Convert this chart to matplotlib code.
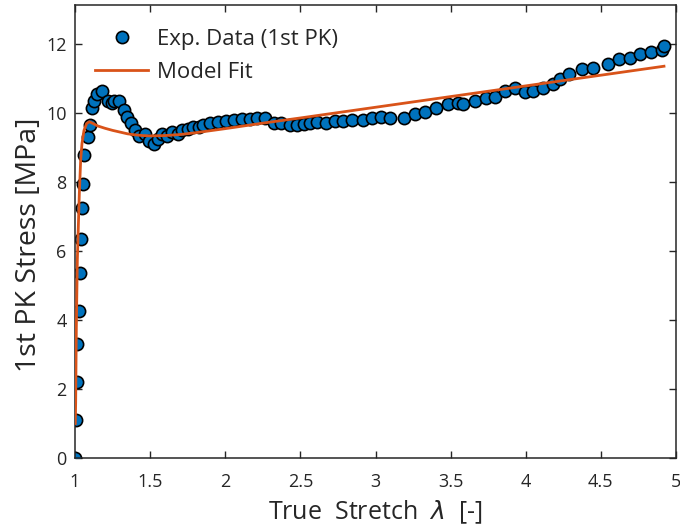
import matplotlib
matplotlib.use("Agg")
import matplotlib.pyplot as plt

# Experimental data (true stretch, 1st PK stress in MPa)
exp_stretch = [1.0, 1.005, 1.011, 1.013, 1.027, 1.03, 1.04, 1.049, 1.055, 1.062,
               1.086, 1.098, 1.115, 1.128, 1.148, 1.177, 1.217, 1.243, 1.26, 1.29,
               1.325, 1.345, 1.372, 1.4, 1.425, 1.465, 1.494, 1.527, 1.553, 1.582,
               1.613, 1.648, 1.686, 1.715, 1.753, 1.786, 1.826, 1.853, 1.897, 1.952,
               2.003, 2.058, 2.114, 2.163, 2.211, 2.267, 2.322, 2.369, 2.429, 2.477,
               2.524, 2.561, 2.610, 2.672, 2.728, 2.783, 2.845, 2.916, 2.978, 3.038,
               3.098, 3.193, 3.266, 3.332, 3.403, 3.480, 3.547, 3.585, 3.664, 3.736,
               3.793, 3.859, 3.926, 3.992, 4.050, 4.116, 4.183, 4.227, 4.289, 4.373,
               4.449, 4.546, 4.621, 4.696, 4.763, 4.834, 4.909, 4.918]
exp_stress = [0.0, 1.1, 2.2, 3.3, 4.25, 5.35, 6.35, 7.25, 7.95, 8.8,
              9.3, 9.65, 10.15, 10.35, 10.55, 10.65, 10.35, 10.3, 10.35, 10.35,
              10.1, 9.9, 9.7, 9.5, 9.35, 9.4, 9.2, 9.1, 9.25, 9.4,
              9.35, 9.45, 9.4, 9.5, 9.55, 9.6, 9.6, 9.65, 9.70, 9.75,
              9.78, 9.80, 9.82, 9.84, 9.87, 9.86, 9.72, 9.72, 9.65, 9.65,
              9.68, 9.72, 9.74, 9.72, 9.76, 9.76, 9.80, 9.80, 9.87, 9.89,
              9.85, 9.86, 9.97, 10.03, 10.16, 10.26, 10.28, 10.26, 10.36, 10.45,
              10.47, 10.64, 10.74, 10.62, 10.64, 10.72, 10.84, 10.98, 11.13, 11.27,
              11.30, 11.42, 11.56, 11.61, 11.72, 11.77, 11.83, 11.96]

# Model fit curve
model_stretch = [1.002, 1.0044, 1.0089, 1.0155, 1.0221, 1.0288, 1.0377, 1.0465, 1.0598,
                 1.0775, 1.095, 1.12, 1.15, 1.2, 1.25, 1.3, 1.35, 1.4, 1.45, 1.5,
                 1.6, 1.7, 1.8, 2.0, 2.25, 2.5, 3.0, 3.5, 4.0, 4.5, 4.92]
model_stress = [1.0, 1.6, 3.8, 5.74, 6.7, 7.67, 8.64, 9.12, 9.5,
                9.7, 9.75, 9.7, 9.63, 9.56, 9.5, 9.45, 9.4, 9.37, 9.35, 9.34,
                9.35, 9.38, 9.43, 9.55, 9.71, 9.86, 10.17, 10.48, 10.79, 11.1, 11.36]

x_ticks = [1, 1.5, 2, 2.5, 3, 3.5, 4, 4.5, 5]
x_tick_labels = ["1", "1.5", "2", "2.5", "3", "3.5", "4", "4.5", "5"]
y_ticks = [0, 2, 4, 6, 8, 10, 12]

plt.rcParams['font.family'] = ['Open Sans', 'DejaVu Sans']

fig = plt.figure(figsize=(6.8, 5.31), dpi=100)
ax = fig.add_axes([75/680, 73/531, 601/680, (458-4.5)/531])

ax.plot(exp_stretch, exp_stress, 'o', color='#0072BD', markeredgecolor='black',
        markersize=8.8, markeredgewidth=1.2, label='Exp. Data (1st PK)', zorder=2)
ax.plot(model_stretch, model_stress, '-', color='#D95319', linewidth=2,
        label='Model Fit', zorder=3)

ax.set_xlim(1, 5)
ax.set_ylim(0, 13.15)
ax.set_xticks(x_ticks)
ax.set_xticklabels(x_tick_labels)
ax.set_yticks(y_ticks)

ax.tick_params(direction='in', top=True, right=True, length=5, width=1,
               color='#262626', labelsize=13, labelcolor='#262626', pad=6)
ax.tick_params(axis='x', pad=11)
for s in ax.spines.values():
    s.set_color('#262626')
    s.set_linewidth(1.1)

ax.set_xlabel('True  Stretch  $\\lambda$  [-]', fontsize=18, color='#262626', labelpad=5)
ax.set_ylabel('1st PK Stress [MPa]', fontsize=20.5, color='#262626', labelpad=4)
ax.yaxis.set_label_coords(-0.054, 0.47)
ax.yaxis.label.set_horizontalalignment('center')

leg = ax.legend(loc='upper left', frameon=False, fontsize=16, handlelength=2.4,
                bbox_to_anchor=(0.0, 0.99), labelspacing=0.55, handletextpad=0.4)
for t in leg.get_texts():
    t.set_color('#262626')

fig.savefig('out.png', dpi=100)
